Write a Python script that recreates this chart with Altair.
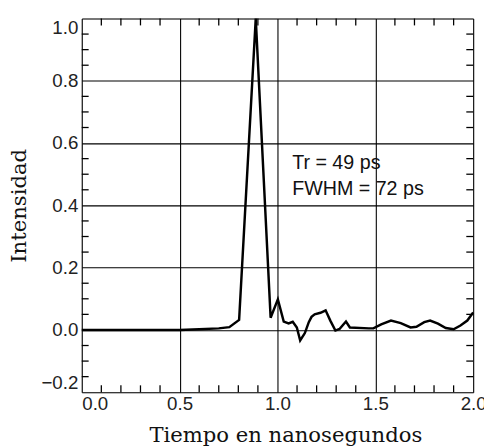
import altair as alt
import pandas as pd

# Pulse waveform
time_ns = [0.0, 0.2, 0.4, 0.5, 0.6, 0.7, 0.754, 0.804, 0.889, 0.965, 1.002, 1.032,
           1.057, 1.078, 1.099, 1.116, 1.14, 1.16, 1.174, 1.19, 1.22, 1.246, 1.27,
           1.296, 1.317, 1.35, 1.37, 1.467, 1.49, 1.53, 1.58, 1.63, 1.68, 1.71, 1.75,
           1.78, 1.82, 1.86, 1.9, 1.935, 1.97, 2.0]
intensity = [0.0, 0.0, 0.0, 0.0, 0.002, 0.005, 0.009, 0.032, 1.0, 0.039, 0.098, 0.027,
             0.021, 0.026, 0.008, -0.034, -0.01, 0.025, 0.042, 0.05, 0.055, 0.063, 0.03,
             -0.002, 0.003, 0.027, 0.008, 0.005, 0.005, 0.018, 0.03, 0.022, 0.008, 0.01,
             0.025, 0.03, 0.02, 0.006, 0.002, 0.014, 0.03, 0.056]

x_major = [0.0, 0.5, 1.0, 1.5, 2.0]
y_major = [-0.2, 0.0, 0.2, 0.4, 0.6, 0.8, 1.0]
x_minor = [0.1, 0.2, 0.3, 0.4, 0.6, 0.7, 0.8, 0.9, 1.1, 1.2, 1.3, 1.4, 1.6, 1.7, 1.8, 1.9]
y_minor = [-0.15, -0.1, -0.05, 0.05, 0.1, 0.15, 0.25, 0.3, 0.35, 0.45, 0.5, 0.55,
           0.65, 0.7, 0.75, 0.85, 0.9, 0.95]

notes = ["Tr = 49 ps", "FWHM = 72 ps"]
note_x = [1.075, 1.075]
note_y = [0.517, 0.432]

df = pd.DataFrame({"t": time_ns, "i": intensity})
notes_df = pd.DataFrame({"label": notes, "t": note_x, "i": note_y})
xminor_df = pd.DataFrame({"t": x_minor})
yminor_df = pd.DataFrame({"i": y_minor})

xs = alt.Scale(domain=[0, 2], nice=False, zero=False)
ys = alt.Scale(domain=[-0.2, 1.0], nice=False, zero=False)

LABEL_FONT = "Liberation Sans"
TITLE_FONT = "DejaVu Serif"
W, H, TK = 398, 380, 7

main = alt.Chart(df).mark_line(color="black", strokeWidth=2.5).encode(
    x=alt.X("t:Q", scale=xs, axis=alt.Axis(
        orient="bottom", values=x_major, format=".1f", ticks=False, domain=False,
        grid=True, gridColor="black", gridWidth=1.1, gridOpacity=1,
        labelFont=LABEL_FONT, labelFontSize=19, labelColor="#222",
        labelAlign=alt.ExprRef("datum.value == 0 ? 'left' : 'center'"),
        labelPadding=3, title="Tiempo en nanosegundos", titleFont=TITLE_FONT,
        titleFontSize=21.5, titleFontWeight="normal", titleColor="#111",
        titlePadding=11, titleX=207)),
    y=alt.Y("i:Q", scale=ys, axis=alt.Axis(
        orient="left", values=y_major, format=".1f", ticks=False, domain=False,
        grid=True, gridColor="black", gridWidth=1.1, gridOpacity=1,
        labelFont=LABEL_FONT, labelFontSize=19, labelColor="#222", labelFlush=True,
        labelPadding=4, title="Intensidad", titleFont=TITLE_FONT, titleFontSize=21.5,
        titleFontWeight="normal", titleColor="#111", titlePadding=11)),
)

tick_style = dict(color="black", strokeWidth=1.3)
top_ticks = alt.Chart(xminor_df).mark_rule(**tick_style).encode(
    x=alt.X("t:Q", scale=xs), y=alt.value(0), y2=alt.value(TK))
bottom_ticks = alt.Chart(xminor_df).mark_rule(**tick_style).encode(
    x=alt.X("t:Q", scale=xs), y=alt.value(H), y2=alt.value(H - TK))
left_ticks = alt.Chart(yminor_df).mark_rule(**tick_style).encode(
    y=alt.Y("i:Q", scale=ys), x=alt.value(0), x2=alt.value(TK))
right_ticks = alt.Chart(yminor_df).mark_rule(**tick_style).encode(
    y=alt.Y("i:Q", scale=ys), x=alt.value(W), x2=alt.value(W - TK))

text = alt.Chart(notes_df).mark_text(
    align="left", baseline="alphabetic", font=LABEL_FONT, fontSize=20, color="#111"
).encode(x=alt.X("t:Q", scale=xs), y=alt.Y("i:Q", scale=ys), text="label:N")

chart = alt.layer(main, top_ticks, bottom_ticks, left_ticks, right_ticks, text).properties(
    width=W, height=H,
    autosize=alt.AutoSizeParams(type="none"),
    padding={"left": 75, "top": 7, "right": 11, "bottom": 51},
).configure_view(stroke="black", strokeWidth=2).configure(background="white")

chart.save("out.html", embed_options={"renderer": "svg", "actions": False})
